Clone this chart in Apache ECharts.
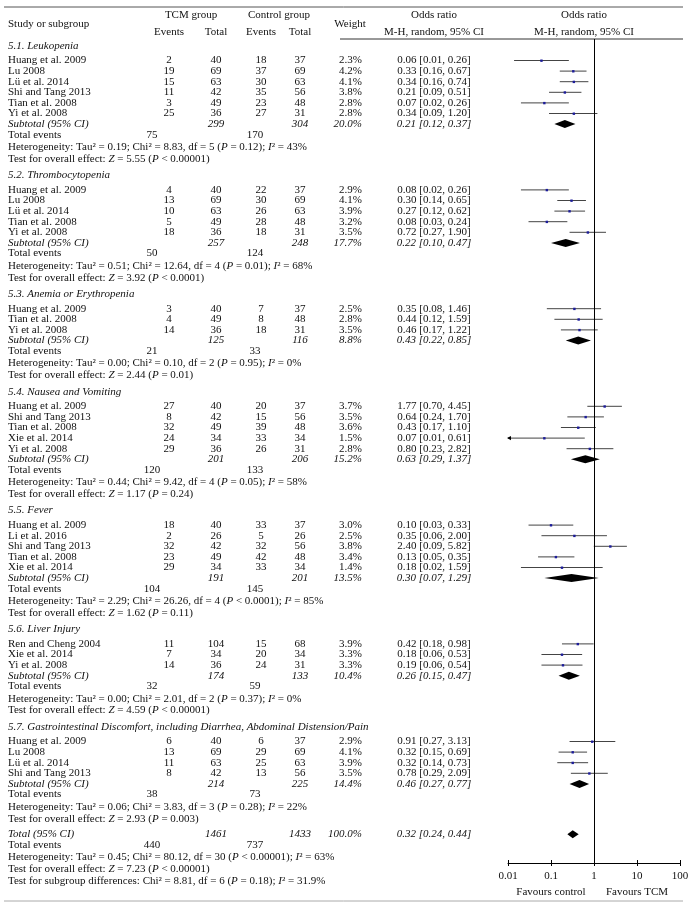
<!DOCTYPE html>
<html>
<head>
<meta charset="utf-8">
<script src="https://cdn.jsdelivr.net/npm/echarts@6/dist/echarts.min.js"></script>
<style>
html, body { margin: 0; padding: 0; background: #fff; }
#main { width: 695px; height: 908px; }
</style>
</head>
<body>
<div id="main"></div>
<script>
// subgroups
const groupNames = [
  '5.1. Leukopenia',
  '5.2. Thrombocytopenia',
  '5.3. Anemia or Erythropenia',
  '5.4. Nausea and Vomiting',
  '5.5. Fever',
  '5.6. Liver Injury',
  '5.7. Gastrointestinal Discomfort, including Diarrhea, Abdominal Distension/Pain'
];
const subTcmTotal = [299, 257, 125, 201, 191, 174, 214];
const subCtrlTotal = [304, 248, 116, 206, 201, 133, 225];
const subTcmEvents = [75, 50, 21, 120, 104, 32, 38];
const subCtrlEvents = [170, 124, 33, 133, 145, 59, 73];
const subWeight = [20.0, 17.7, 8.8, 15.2, 13.5, 10.4, 14.4];
const subOR = [0.21, 0.22, 0.43, 0.63, 0.30, 0.26, 0.46];
const subLo = [0.12, 0.10, 0.22, 0.29, 0.07, 0.15, 0.27];
const subHi = [0.37, 0.47, 0.85, 1.37, 1.29, 0.47, 0.77];
const hetTau2 = [0.19, 0.51, 0.00, 0.44, 2.29, 0.00, 0.06];
const hetChi2 = [8.83, 12.64, 0.10, 9.42, 26.26, 2.01, 3.83];
const hetDf = [5, 4, 2, 4, 4, 2, 3];
const hetP = ['= 0.12', '= 0.01', '= 0.95', '= 0.05', '< 0.0001', '= 0.37', '= 0.28'];
const hetI2 = ['43', '68', '0', '58', '85', '0', '22'];
const testZ = [5.55, 3.92, 2.44, 1.17, 1.62, 4.59, 2.93];
const testP = ['< 0.00001', '< 0.0001', '= 0.01', '= 0.24', '= 0.11', '< 0.00001', '= 0.003'];

// individual studies
const studyGroup = [0,0,0,0,0,0, 1,1,1,1,1, 2,2,2, 3,3,3,3,3, 4,4,4,4,4, 5,5,5, 6,6,6,6];
const studyNames = [
  'Huang et al. 2009', 'Lu 2008', 'Lü et al. 2014', 'Shi and Tang 2013', 'Tian et al. 2008', 'Yi et al. 2008',
  'Huang et al. 2009', 'Lu 2008', 'Lü et al. 2014', 'Tian et al. 2008', 'Yi et al. 2008',
  'Huang et al. 2009', 'Tian et al. 2008', 'Yi et al. 2008',
  'Huang et al. 2009', 'Shi and Tang 2013', 'Tian et al. 2008', 'Xie et al. 2014', 'Yi et al. 2008',
  'Huang et al. 2009', 'Li et al. 2016', 'Shi and Tang 2013', 'Tian et al. 2008', 'Xie et al. 2014',
  'Ren and Cheng 2004', 'Xie et al. 2014', 'Yi et al. 2008',
  'Huang et al. 2009', 'Lu 2008', 'Lü et al. 2014', 'Shi and Tang 2013'
];
const tcmEvents = [2,19,15,11,3,25, 4,13,10,5,18, 3,4,14, 27,8,32,24,29, 18,2,32,23,29, 11,7,14, 6,13,11,8];
const tcmTotal = [40,69,63,42,49,36, 40,69,63,49,36, 40,49,36, 40,42,49,34,36, 40,26,42,49,34, 104,34,36, 40,69,63,42];
const ctrlEvents = [18,37,30,35,23,27, 22,30,26,28,18, 7,8,18, 20,15,39,33,26, 33,5,32,42,33, 15,20,24, 6,29,25,13];
const ctrlTotal = [37,69,63,56,48,31, 37,69,63,48,31, 37,48,31, 37,56,48,34,31, 37,26,56,48,34, 68,34,31, 37,69,63,56];
const studyWeight = [2.3,4.2,4.1,3.8,2.8,2.8, 2.9,4.1,3.9,3.2,3.5, 2.5,2.8,3.5, 3.7,3.5,3.6,1.5,2.8, 3.0,2.5,3.8,3.4,1.4, 3.9,3.3,3.3, 2.9,4.1,3.9,3.5];
const studyOR = [0.06,0.33,0.34,0.21,0.07,0.34, 0.08,0.30,0.27,0.08,0.72, 0.35,0.44,0.46, 1.77,0.64,0.43,0.07,0.80, 0.10,0.35,2.40,0.13,0.18, 0.42,0.18,0.19, 0.91,0.32,0.32,0.78];
const studyLo = [0.01,0.16,0.16,0.09,0.02,0.09, 0.02,0.14,0.12,0.03,0.27, 0.08,0.12,0.17, 0.70,0.24,0.17,0.01,0.23, 0.03,0.06,0.09,0.05,0.02, 0.18,0.06,0.06, 0.27,0.15,0.14,0.29];
const studyHi = [0.26,0.67,0.74,0.51,0.26,1.20, 0.26,0.65,0.62,0.24,1.90, 1.46,1.59,1.22, 4.45,1.70,1.10,0.61,2.82, 0.33,2.00,5.82,0.35,1.59, 0.98,0.53,0.54, 3.13,0.69,0.73,2.09];

// overall
const totalTcm = 1461, totalCtrl = 1433;
const totalTcmEvents = 440, totalCtrlEvents = 737;
const totalOR = 0.32, totalLo = 0.24, totalHi = 0.44;
const totalHet = { tau2: 0.45, chi2: 80.12, df: 30, p: '< 0.00001', i2: '63' };
const totalTest = { z: 7.23, p: '< 0.00001' };
const subgroupDiff = { chi2: 8.81, df: 6, p: '= 0.18', i2: '31.9' };

const xTicks = [0.01, 0.1, 1, 10, 100];

// ---- layout of the rows (offsets from the plot top, px) ----
const FONT = 'Liberation Serif';
const FS = 11;
const Y_MAX = 824;
const L = { first: 7, line: 10.6, headGap: 14.5, hetGap: 12.5, testGap: 11.7, sectionGap: 16.5, totalGap: 15.5 };
const COL = { name: 8, tcmEv: 169, tcmTot: 216, ctrlEv: 261, ctrlTot: 300, weight: 362, or: 434, totTcmEv: 152, totCtrlEv: 255 };

const rows = [];
let y = L.first;
groupNames.forEach((g, gi) => {
  if (gi > 0) y += L.sectionGap;
  rows.push({ kind: 'heading', y, text: g });
  y += L.headGap;
  let first = true;
  studyGroup.forEach((sg, si) => {
    if (sg !== gi) return;
    if (!first) y += L.line;
    first = false;
    rows.push({ kind: 'study', y, s: si });
  });
  y += L.line; rows.push({ kind: 'subtotal', y, g: gi });
  y += L.line; rows.push({ kind: 'events', y, a: subTcmEvents[gi], b: subCtrlEvents[gi] });
  y += L.hetGap; rows.push({ kind: 'het', y, tau2: hetTau2[gi], chi2: hetChi2[gi], df: hetDf[gi], p: hetP[gi], i2: hetI2[gi] });
  y += L.testGap; rows.push({ kind: 'test', y, z: testZ[gi], p: testP[gi] });
});
y += L.totalGap; rows.push({ kind: 'total', y });
y += L.line; rows.push({ kind: 'events', y, a: totalTcmEvents, b: totalCtrlEvents });
y += L.hetGap; rows.push(Object.assign({ kind: 'het', y }, totalHet));
y += L.testGap; rows.push(Object.assign({ kind: 'test', y }, totalTest));
y += L.testGap; rows.push(Object.assign({ kind: 'diff', y }, subgroupDiff));
rows.push({ kind: 'favours', y: Y_MAX + 29 });

const RICH = {
  i: { fontFamily: FONT, fontSize: FS, fontStyle: 'italic', fill: '#111' }
};

const fmtCI = (o, l, h) => o.toFixed(2) + ' [' + l.toFixed(2) + ', ' + h.toFixed(2) + ']';

function renderTable(params, api) {
  const r = rows[api.value(2)];
  const py = api.coord([1, r.y])[1];
  const els = [];
  const T = (x, s, align, italic) => els.push({
    type: 'text', x: x, y: py, silent: true,
    style: {
      text: s, textAlign: align, textVerticalAlign: 'middle',
      fontFamily: FONT, fontSize: FS, fontStyle: italic ? 'italic' : 'normal',
      fill: '#111', rich: RICH
    }
  });
  if (r.kind === 'heading') {
    T(COL.name, r.text, 'left', true);
  } else if (r.kind === 'study') {
    const s = r.s;
    T(COL.name, studyNames[s], 'left');
    T(COL.tcmEv, String(tcmEvents[s]), 'center');
    T(COL.tcmTot, String(tcmTotal[s]), 'center');
    T(COL.ctrlEv, String(ctrlEvents[s]), 'center');
    T(COL.ctrlTot, String(ctrlTotal[s]), 'center');
    T(COL.weight, studyWeight[s].toFixed(1) + '%', 'right');
    T(COL.or, fmtCI(studyOR[s], studyLo[s], studyHi[s]), 'center');
  } else if (r.kind === 'subtotal') {
    const g = r.g;
    T(COL.name, 'Subtotal (95% CI)', 'left', true);
    T(COL.tcmTot, String(subTcmTotal[g]), 'center', true);
    T(COL.ctrlTot, String(subCtrlTotal[g]), 'center', true);
    T(COL.weight, subWeight[g].toFixed(1) + '%', 'right', true);
    T(COL.or, fmtCI(subOR[g], subLo[g], subHi[g]), 'center', true);
  } else if (r.kind === 'total') {
    T(COL.name, 'Total (95% CI)', 'left', true);
    T(COL.tcmTot, String(totalTcm), 'center', true);
    T(COL.ctrlTot, String(totalCtrl), 'center', true);
    T(COL.weight, '100.0%', 'right', true);
    T(COL.or, fmtCI(totalOR, totalLo, totalHi), 'center', true);
  } else if (r.kind === 'events') {
    T(COL.name, 'Total events', 'left');
    T(COL.totTcmEv, String(r.a), 'center');
    T(COL.totCtrlEv, String(r.b), 'center');
  } else if (r.kind === 'het') {
    T(COL.name, 'Heterogeneity: Tau² = ' + r.tau2.toFixed(2) + '; Chi² = ' + r.chi2.toFixed(2) +
      ', df = ' + r.df + ' ({i|P} ' + r.p + '); {i|I}² = ' + r.i2 + '%', 'left');
  } else if (r.kind === 'test') {
    T(COL.name, 'Test for overall effect: {i|Z} = ' + r.z.toFixed(2) + ' ({i|P} ' + r.p + ')', 'left');
  } else if (r.kind === 'diff') {
    T(COL.name, 'Test for subgroup differences: Chi² = ' + r.chi2.toFixed(2) + ', df = ' + r.df +
      ' ({i|P} ' + r.p + '); {i|I}² = ' + r.i2 + '%', 'left');
  } else if (r.kind === 'favours') {
    els.push({ type: 'text', x: api.coord([0.1, r.y])[0], y: py, silent: true,
      style: { text: 'Favours control', textAlign: 'center', textVerticalAlign: 'middle', fontFamily: FONT, fontSize: FS, fill: '#111' } });
    els.push({ type: 'text', x: api.coord([10, r.y])[0], y: py, silent: true,
      style: { text: 'Favours TCM', textAlign: 'center', textVerticalAlign: 'middle', fontFamily: FONT, fontSize: FS, fill: '#111' } });
  }
  return { type: 'group', children: els };
}

// the printed lower limits are rounded; the CI is symmetric on the log scale,
// so where the printed value is off (or at the axis limit) use OR^2 / upper
function drawnLower(o, l, h) {
  const sym = o * o / h;
  if (l <= xTicks[0] || Math.abs(Math.log(sym / l)) > Math.log(1.3)) return sym;
  return l;
}

// forest marks: [or, lo, hi, y, isDiamond]
const forestData = [];
rows.forEach(r => {
  if (r.kind === 'study') forestData.push([studyOR[r.s], drawnLower(studyOR[r.s], studyLo[r.s], studyHi[r.s]), studyHi[r.s], r.y, 0]);
  if (r.kind === 'subtotal') forestData.push([subOR[r.g], subLo[r.g], subHi[r.g], r.y, 1]);
  if (r.kind === 'total') forestData.push([totalOR, totalLo, totalHi, r.y, 1]);
});

function renderForest(params, api) {
  const yv = api.value(3);
  const p = api.coord([api.value(0), yv]);
  const pl = api.coord([Math.max(api.value(1), xTicks[0]), yv]);
  const ph = api.coord([api.value(2), yv]);
  if (api.value(4) === 1) {
    return {
      type: 'polygon', silent: true,
      shape: { points: [[pl[0], p[1]], [p[0], p[1] - 4], [ph[0], p[1]], [p[0], p[1] + 4]] },
      style: { fill: '#000' }
    };
  }
  const children = [
    { type: 'line', silent: true, shape: { x1: pl[0], y1: p[1], x2: ph[0], y2: p[1] }, style: { stroke: '#444', lineWidth: 1 } },
    { type: 'rect', silent: true, shape: { x: p[0] - 1.2, y: p[1] - 1, width: 2.4, height: 2.4 }, style: { fill: '#1c1c9a' } }
  ];
  if (api.value(1) < xTicks[0]) {
    children.push({ type: 'polygon', silent: true,
      shape: { points: [[pl[0] - 1, p[1]], [pl[0] + 3, p[1] - 2.2], [pl[0] + 3, p[1] + 2.2]] },
      style: { fill: '#000' } });
  }
  return { type: 'group', children };
}

const chart = echarts.init(document.getElementById('main'), null, { renderer: 'canvas' });
const axisLabelStyle = { fontFamily: FONT, fontSize: FS, color: '#111', margin: 8 };
const hdr = (x, yy, s, align) => ({ type: 'text', x: x, y: yy,
  style: { text: s, textAlign: align || 'center', textVerticalAlign: 'middle', fontFamily: FONT, fontSize: FS, fill: '#111' } });
chart.setOption({
  animation: false,
  backgroundColor: '#fff',
  grid: { left: 508, right: 15, top: 39, bottom: 45 },
  xAxis: [
    {
      type: 'log', logBase: 10, min: xTicks[0], max: xTicks[xTicks.length - 1],
      position: 'bottom',
      axisLine: { show: true, onZero: false, lineStyle: { color: '#000', width: 1 } },
      axisTick: { show: true, length: 3, lineStyle: { color: '#000' } },
      axisLabel: Object.assign({ formatter: v => String(v) }, axisLabelStyle),
      splitLine: { show: false }
    },
    {
      type: 'log', logBase: 10, min: xTicks[0], max: xTicks[xTicks.length - 1],
      position: 'bottom',
      axisLine: { show: false, onZero: false },
      axisTick: { show: true, inside: true, length: 3, lineStyle: { color: '#000' } },
      axisLabel: { show: false },
      splitLine: { show: false }
    }
  ],
  yAxis: { type: 'value', min: 0, max: Y_MAX, inverse: true, show: false },
  graphic: [
    { type: 'line', shape: { x1: 4, y1: 7, x2: 683, y2: 7 }, style: { stroke: '#555', lineWidth: 1 } },
    { type: 'line', shape: { x1: 340, y1: 39, x2: 683, y2: 39 }, style: { stroke: '#333', lineWidth: 1 } },
    { type: 'line', shape: { x1: 4, y1: 901, x2: 683, y2: 901 }, style: { stroke: '#aaa', lineWidth: 1 } },
    hdr(8, 24, 'Study or subgroup', 'left'),
    hdr(191, 15, 'TCM group'),
    hdr(279, 15, 'Control group'),
    hdr(COL.tcmEv, 32, 'Events'),
    hdr(COL.tcmTot, 32, 'Total'),
    hdr(COL.ctrlEv, 32, 'Events'),
    hdr(COL.ctrlTot, 32, 'Total'),
    hdr(350, 24, 'Weight'),
    hdr(COL.or, 15, 'Odds ratio'),
    hdr(COL.or, 32, 'M-H, random, 95% CI'),
    hdr(584, 15, 'Odds ratio'),
    hdr(584, 32, 'M-H, random, 95% CI')
  ],
  series: [
    {
      type: 'custom', name: 'forest', coordinateSystem: 'cartesian2d',
      xAxisIndex: 0, yAxisIndex: 0,
      encode: { x: 0, y: 3 },
      data: forestData,
      renderItem: renderForest,
      clip: false,
      silent: true,
      markLine: {
        silent: true, symbol: ['none', 'none'],
        label: { show: false },
        lineStyle: { color: '#000', width: 1, type: 'solid' },
        data: [{ xAxis: 1 }]
      }
    },
    {
      type: 'custom', name: 'table', coordinateSystem: 'cartesian2d',
      encode: { x: 0, y: 1 },
      data: rows.map((r, i) => [1, r.y, i]),
      renderItem: renderTable,
      clip: false,
      silent: true
    }
  ]
});
</script>
</body>
</html>
